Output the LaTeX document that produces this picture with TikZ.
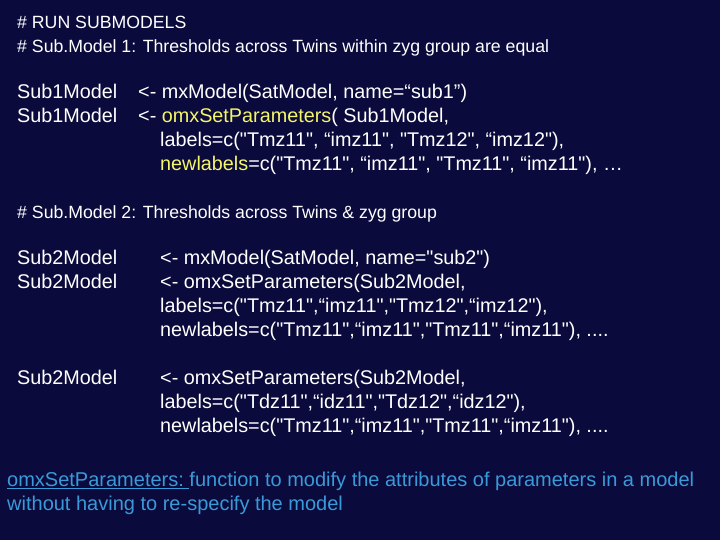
\documentclass[tikz,border=0pt]{standalone}
\usepackage{fontspec}
\setmainfont{Liberation Sans}[Ligatures=TeXOff]
\definecolor{bg}{HTML}{0A0A3C}
\definecolor{yl}{HTML}{F5F56A}
\definecolor{bl}{HTML}{3A9AD9}
\begin{document}
\begin{tikzpicture}[x=1pt,y=1pt,
  t/.style={anchor=base west,inner sep=0pt,text=white,font=\fontsize{19.8}{22}\selectfont},
  h/.style={t,font=\fontsize{17.7}{20}\selectfont},
  b/.style={t,text=bl,font=\fontsize{20}{23}\selectfont}]
\fill[bg] (0,0) rectangle (720,540);
\useasboundingbox (0,0) rectangle (720,540);
\node[h] (h1) at (17,540-29) {\# RUN SUBMODELS};
\node[h] (h2) at (17,540-53) {\# Sub.Model 1: Thresholds across Twins within zyg group are equal};
\node[t] (a1) at (17,540-99) {Sub1Model};
\node[t] (a2) at (17,540-123) {Sub1Model};
\node[t] (a3) at (138,540-99) {<- mxModel(SatModel, name=“sub1”)};
\node[t] (a4) at (138,540-123) {<- \textcolor{yl}{omxSetParameters}( Sub1Model,};
\node[t] (a5) at (160,540-147) {labels=c("Tmz11", “imz11", "Tmz12", “imz12"),};
\node[t] (a6) at (160,540-171) {\textcolor{yl}{newlabels}=c("Tmz11", “imz11", "Tmz11", “imz11"), …};
\node[h] (h3) at (17,540-219) {\# Sub.Model 2: Thresholds across Twins \& zyg group};
\node[t] (c1) at (17,540-265) {Sub2Model};
\node[t] (c2) at (17,540-289) {Sub2Model};
\node[t] (c3) at (160,540-265) {<- mxModel(SatModel, name="sub2")};
\node[t] (c4) at (160,540-289) {<- omxSetParameters(Sub2Model,};
\node[t] (c5) at (160,540-313) {labels=c("Tmz11",“imz11","Tmz12",“imz12"),};
\node[t] (c6) at (160,540-337) {newlabels=c("Tmz11",“imz11","Tmz11",“imz11"), ....};
\node[t] (d1) at (17,540-385) {Sub2Model};
\node[t] (d2) at (160,540-385) {<- omxSetParameters(Sub2Model,};
\node[t] (d3) at (160,540-409) {labels=c("Tdz11",“idz11","Tdz12",“idz12"),};
\node[t] (d4) at (160,540-433) {newlabels=c("Tmz11",“imz11","Tmz11",“imz11"), ....};
\node[b] (e1) at (7,540-487) {\underline{omxSetParameters:\ }function to modify the attributes of parameters in a model};
\node[b] (e2) at (7,540-511) {without having to re-specify the model};
\end{tikzpicture}
\end{document}
